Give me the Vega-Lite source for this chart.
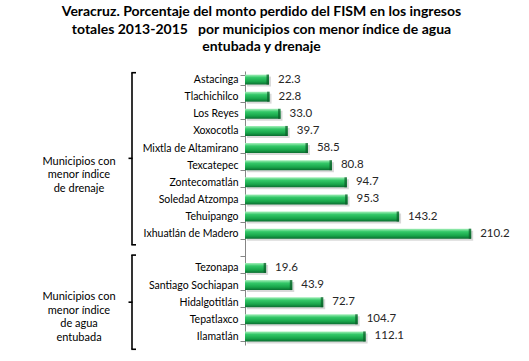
{
  "$schema": "https://vega.github.io/schema/vega-lite/v6.json",
  "background": "#ffffff",
  "padding": 5,
  "bounds": "flush",
  "spacing": 110,
  "config": {"view": {"stroke": null}, "font": "Lato"},
  "title": {
    "text": ["Veracruz. Porcentaje del monto perdido del FISM en los ingresos", "totales 2013-2015 \u00a0 por municipios con menor índice de agua", "entubada y drenaje"],
    "font": "Lato", "fontSize": 14, "fontWeight": "bold", "color": "#000000",
    "lineHeight": 17.5, "anchor": "middle", "offset": 12, "dx": 2
  },
  "datasets": {
    "bars": [
      {"municipio": "Astacinga", "grupo": "drenaje", "valor": 22.3},
      {"municipio": "Tlachichilco", "grupo": "drenaje", "valor": 22.8},
      {"municipio": "Los Reyes", "grupo": "drenaje", "valor": 33.0},
      {"municipio": "Xoxocotla", "grupo": "drenaje", "valor": 39.7},
      {"municipio": "Mixtla de Altamirano", "grupo": "drenaje", "valor": 58.5},
      {"municipio": "Texcatepec", "grupo": "drenaje", "valor": 80.8},
      {"municipio": "Zontecomatlán", "grupo": "drenaje", "valor": 94.7},
      {"municipio": "Soledad Atzompa", "grupo": "drenaje", "valor": 95.3},
      {"municipio": "Tehuipango", "grupo": "drenaje", "valor": 143.2},
      {"municipio": "Ixhuatlán de Madero", "grupo": "drenaje", "valor": 210.2},
      {"municipio": "Tezonapa", "grupo": "agua", "valor": 19.6},
      {"municipio": "Santiago Sochiapan", "grupo": "agua", "valor": 43.9},
      {"municipio": "Hidalgotitlán", "grupo": "agua", "valor": 72.7},
      {"municipio": "Tepatlaxco", "grupo": "agua", "valor": 104.7},
      {"municipio": "Ilamatlán", "grupo": "agua", "valor": 112.1}
    ],
    "groups": [
      {"label": "Municipios con|menor índice|de drenaje", "start": 0.1, "end": 10.15, "mid": 5.1, "textmid": 5.3},
      {"label": "Municipios con|menor índice|de agua|entubada", "start": 10.75, "end": 16.25, "mid": 13.5, "textmid": 13.2}
    ]
  },
  "hconcat": [
    {
      "width": 130,
      "height": 274,
      "data": {"name": "groups"},
      "layer": [
        {
          "mark": {"type": "text", "font": "Lato", "fontSize": 11, "color": "#000000", "lineBreak": "|", "lineHeight": 13.5, "align": "center", "baseline": "middle"},
          "encoding": {
            "x": {"datum": 74, "type": "quantitative", "scale": {"domain": [0, 130]}, "axis": null},
            "y": {"field": "textmid", "type": "quantitative", "scale": {"domain": [0, 16], "reverse": true, "nice": false, "zero": false}, "axis": null},
            "text": {"field": "label"}
          }
        },
        {
          "mark": {"type": "rule", "color": "#000000", "strokeWidth": 1.6},
          "encoding": {
            "x": {"datum": 127, "type": "quantitative"},
            "y": {"field": "start", "type": "quantitative"},
            "y2": {"field": "end"}
          }
        },
        {
          "mark": {"type": "rule", "color": "#000000", "strokeWidth": 1.6},
          "encoding": {
            "x": {"datum": 126.3, "type": "quantitative"},
            "x2": {"datum": 131},
            "y": {"field": "start", "type": "quantitative"}
          }
        },
        {
          "mark": {"type": "rule", "color": "#000000", "strokeWidth": 1.6},
          "encoding": {
            "x": {"datum": 126.3, "type": "quantitative"},
            "x2": {"datum": 131},
            "y": {"field": "end", "type": "quantitative"}
          }
        },
        {
          "mark": {"type": "rule", "color": "#000000", "strokeWidth": 1.6},
          "encoding": {
            "x": {"datum": 123.5, "type": "quantitative"},
            "x2": {"datum": 127.5},
            "y": {"field": "mid", "type": "quantitative"}
          }
        }
      ]
    },
    {
      "width": 269,
      "height": 274,
      "data": {"name": "bars"},
      "encoding": {
        "y": {
          "field": "municipio", "type": "nominal",
          "scale": {
            "domain": ["Astacinga", "Tlachichilco", "Los Reyes", "Xoxocotla", "Mixtla de Altamirano", "Texcatepec", "Zontecomatlán", "Soledad Atzompa", "Tehuipango", "Ixhuatlán de Madero", "", "Tezonapa", "Santiago Sochiapan", "Hidalgotitlán", "Tepatlaxco", "Ilamatlán"],
            "paddingInner": 0.42, "paddingOuter": 0.21
          },
          "axis": {
            "title": null, "tickBand": "extent", "domainColor": "#868686", "tickColor": "#868686",
            "tickSize": 5, "labelPadding": 2, "labelFont": "Lato", "labelFontSize": 10.5, "labelColor": "#000000"
          }
        },
        "x": {"field": "valor", "type": "quantitative", "scale": {"domain": [0, 250], "nice": false}, "axis": null}
      },
      "layer": [
        {
          "mark": {"type": "bar", "color": "#000000", "opacity": 0.15, "xOffset": 2, "yOffset": 2}
        },
        {
          "mark": {
            "type": "bar",
            "color": {"gradient": "linear", "x1": 0, "y1": 0, "x2": 0, "y2": 1,
              "stops": [
                {"offset": 0, "color": "#a6f0bb"},
                {"offset": 0.3, "color": "#33c868"},
                {"offset": 0.7, "color": "#18a54a"},
                {"offset": 1, "color": "#0b6e31"}
              ]}
          }
        },
        {
          "mark": {"type": "tick", "orient": "vertical", "color": "#0c5a28", "thickness": 2.5, "size": 10, "xOffset": -1.2}
        },
        {
          "mark": {"type": "text", "align": "left", "baseline": "middle", "dx": 9, "font": "Lato", "fontSize": 11.5, "color": "#262626"},
          "encoding": {"text": {"field": "valor", "type": "quantitative", "format": ".1f"}}
        }
      ]
    }
  ]
}
